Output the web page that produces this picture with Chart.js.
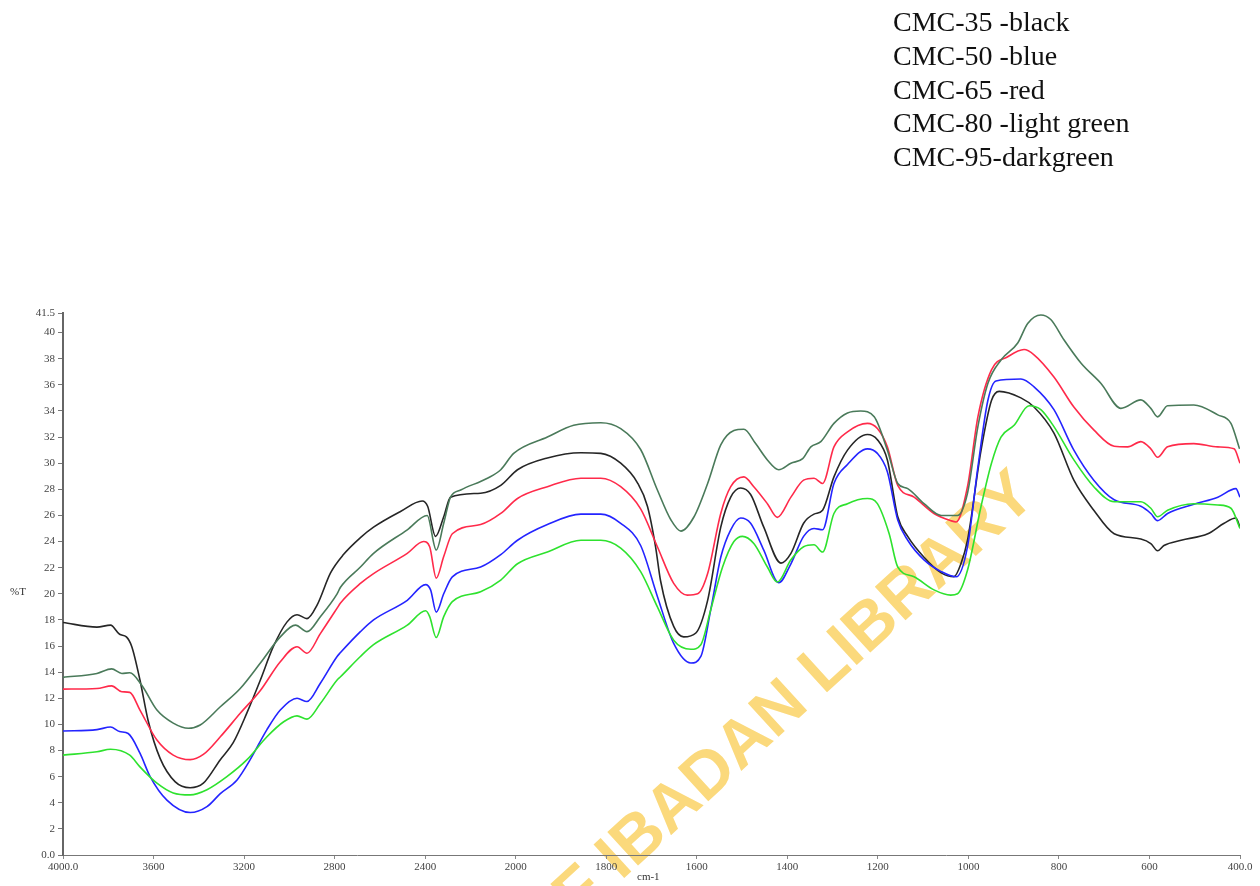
<!DOCTYPE html>
<html lang="en">
<head>
<meta charset="UTF-8">
<title>CMC FTIR spectra</title>
<style>
  body {
    margin: 0;
    background: #fff;
    width: 1260px;
    height: 886px;
    overflow: hidden;
    position: relative;
    font-family: "Liberation Serif", "Times New Roman", serif;
  }
  .key {
    position: absolute;
    left: 893px;
    top: 5px;
    font-size: 28px;
    line-height: 33.8px;
    color: #111;
  }
  .mark {
    position: absolute;
    right: 215px;
    top: 440px;
    transform-origin: 100% 100%;
    transform: rotate(-42.5deg);
    font-family: "Liberation Sans", Arial, sans-serif;
    font-weight: bold;
    font-size: 66px;
    line-height: 66px;
    white-space: nowrap;
    color: #fbd97c;
  }
  .chart-box {
    position: absolute;
    left: 0;
    top: 0;
  }
  .ylab {
    position: absolute;
    left: 10px;
    top: 585px;
    font-size: 11px;
    color: #333;
  }
  .xlab {
    position: absolute;
    left: 637px;
    top: 870px;
    font-size: 11px;
    color: #333;
  }
</style>
<script src="https://cdn.jsdelivr.net/npm/chart.js"></script>
</head>
<body>
  <div class="mark">UNIVERSITY OF IBADAN LIBRARY</div>
  <div class="chart-box">
    <canvas id="ftir" width="1260" height="886"></canvas>
  </div>
  <div class="key">
    CMC-35 -black<br>
    CMC-50 -blue<br>
    CMC-65 -red<br>
    CMC-80 -light green<br>
    CMC-95-darkgreen
  </div>
  <div class="ylab">%T</div>
  <div class="xlab">cm-1</div>

  <script>
    // tick labels (x axis changes scale at 2000 cm-1)
    const xTickLabels = ['4000.0', '3600', '3200', '2800', '2400', '2000', '1800', '1600', '1400', '1200', '1000', '800', '600', '400.0'];
    const yTicks = [0, 2, 4, 6, 8, 10, 12, 14, 16, 18, 20, 22, 24, 26, 28, 30, 32, 34, 36, 38, 40, 41.5];

    // [wavenumber, %T]
    const cmc35 = [
      [4000, 17.8], [3850, 17.45], [3790, 17.6], [3750, 16.9], [3720, 16.7], [3696, 15.95], [3660, 13.4],
      [3624, 10.3], [3571, 7.4], [3504, 5.6], [3438, 5.15], [3380, 5.5], [3305, 7.3], [3248, 8.6],
      [3187, 10.9], [3128, 13.4], [3071, 15.95], [3010, 17.85], [2966, 18.4], [2922, 18.1], [2877, 19.15],
      [2818, 21.6], [2761, 23.0], [2686, 24.3], [2628, 25.1], [2509, 26.3], [2413, 27.1], [2389, 26.7],
      [2354, 24.4], [2318, 25.9], [2288, 27.4], [2155, 27.7], [2066, 28.3], [1996, 29.5], [1930, 30.4],
      [1856, 30.8], [1812, 30.75], [1768, 30.0], [1731, 28.5], [1709, 26.7], [1691, 23.6], [1680, 21.0],
      [1651, 17.5], [1629, 16.7], [1602, 17.0], [1576, 19.5], [1547, 25.1], [1525, 27.4], [1503, 28.1],
      [1481, 27.6], [1452, 25.1], [1414, 22.35], [1392, 23.1], [1364, 25.4], [1341, 26.1], [1322, 26.4],
      [1297, 28.95], [1267, 31.0], [1223, 32.2], [1201, 31.8], [1179, 30.25], [1156, 25.9], [1134, 24.4],
      [1098, 22.8], [1060, 21.6], [1032, 21.3], [1016, 22.35], [1002, 24.1], [972, 31.0], [949, 34.8],
      [932, 35.5], [884, 35.0], [855, 34.3], [811, 32.3], [767, 28.7], [723, 26.4], [678, 24.6],
      [619, 24.2], [597, 23.85], [582, 23.3], [568, 23.7], [530, 24.1], [471, 24.6], [435, 25.4],
      [409, 25.8], [400, 25.1]
    ];

    const cmc50 = [
      [4000, 9.5], [3850, 9.6], [3790, 9.8], [3750, 9.45], [3712, 9.3], [3660, 7.8], [3615, 6.0],
      [3541, 4.2], [3438, 3.25], [3364, 3.7], [3305, 4.7], [3231, 5.75], [3173, 7.3], [3099, 9.6],
      [3040, 11.1], [2966, 12.0], [2922, 11.75], [2863, 13.15], [2789, 15.2], [2774, 15.5], [2686, 17.1],
      [2628, 18.0], [2479, 19.5], [2398, 20.7], [2376, 20.3], [2351, 18.6], [2318, 20.0], [2280, 21.3],
      [2155, 22.05], [2066, 23.0], [1996, 24.1], [1930, 25.3], [1856, 26.1], [1812, 26.1], [1768, 25.4],
      [1724, 23.7], [1687, 19.8], [1651, 16.2], [1613, 14.7], [1591, 15.2], [1569, 18.8], [1547, 22.8],
      [1525, 24.9], [1503, 25.8], [1481, 25.4], [1452, 23.35], [1419, 20.85], [1392, 22.3], [1364, 24.4],
      [1341, 25.0], [1322, 24.9], [1297, 28.45], [1267, 29.9], [1223, 31.1], [1201, 30.75], [1179, 29.35],
      [1156, 25.65], [1134, 24.1], [1098, 22.6], [1060, 21.7], [1027, 21.3], [1002, 23.6], [979, 29.7],
      [957, 34.8], [939, 36.3], [884, 36.45], [855, 35.85], [811, 34.1], [767, 31.0], [723, 28.7],
      [678, 27.2], [619, 26.7], [597, 26.15], [582, 25.6], [560, 26.15], [502, 26.85], [449, 27.4],
      [409, 28.05], [400, 27.4]
    ];

    const cmc65 = [
      [4000, 12.7], [3850, 12.75], [3785, 12.95], [3740, 12.5], [3705, 12.45], [3660, 11.1], [3585, 8.8],
      [3513, 7.65], [3438, 7.3], [3380, 7.7], [3305, 9.05], [3217, 10.85], [3128, 12.6], [3040, 14.8],
      [2966, 15.95], [2922, 15.45], [2863, 16.95], [2789, 18.9], [2774, 19.3], [2686, 20.8], [2628, 21.55],
      [2479, 23.1], [2407, 24.0], [2380, 23.6], [2351, 21.2], [2318, 22.85], [2280, 24.6], [2155, 25.3],
      [2066, 26.15], [1996, 27.3], [1930, 28.2], [1856, 28.85], [1812, 28.85], [1768, 28.2], [1724, 26.5],
      [1687, 23.6], [1651, 20.8], [1621, 19.9], [1598, 20.0], [1576, 21.55], [1547, 26.15], [1525, 28.2],
      [1496, 28.95], [1474, 28.2], [1444, 26.9], [1422, 25.85], [1392, 27.4], [1364, 28.7], [1341, 28.85],
      [1322, 28.45], [1297, 31.25], [1267, 32.4], [1223, 33.05], [1201, 32.65], [1179, 31.25], [1156, 28.3],
      [1120, 27.4], [1076, 26.15], [1039, 25.6], [1027, 25.5], [1002, 28.2], [979, 33.55], [949, 37.15],
      [913, 38.15], [877, 38.7], [855, 38.3], [811, 36.6], [767, 34.3], [723, 32.55], [678, 31.3],
      [648, 31.25], [619, 31.65], [597, 31.1], [582, 30.45], [560, 31.25], [502, 31.5], [449, 31.25],
      [413, 31.1], [400, 30.0]
    ];

    const cmc80 = [
      [4000, 7.65], [3850, 7.9], [3790, 8.1], [3705, 7.65], [3660, 6.75], [3585, 5.5], [3513, 4.75],
      [3438, 4.6], [3364, 5.0], [3276, 6.0], [3187, 7.3], [3099, 9.05], [3025, 10.2], [2966, 10.65],
      [2922, 10.4], [2863, 11.6], [2789, 13.4], [2774, 13.65], [2686, 15.2], [2628, 16.1], [2479, 17.6],
      [2398, 18.7], [2380, 18.25], [2351, 16.65], [2318, 18.25], [2280, 19.4], [2155, 20.15], [2066, 21.05],
      [1996, 22.3], [1930, 23.2], [1856, 24.1], [1812, 24.1], [1768, 23.5], [1724, 21.7], [1687, 19.0],
      [1651, 16.45], [1613, 15.75], [1591, 16.1], [1569, 18.8], [1543, 22.05], [1518, 24.0], [1499, 24.4],
      [1474, 23.85], [1444, 22.05], [1422, 20.9], [1392, 22.6], [1364, 23.6], [1341, 23.75], [1322, 23.2],
      [1297, 26.15], [1267, 26.9], [1223, 27.3], [1201, 26.9], [1175, 24.6], [1156, 22.05], [1120, 21.3],
      [1076, 20.3], [1039, 19.9], [1024, 20.0], [1002, 21.8], [972, 26.7], [949, 30.0], [928, 32.0],
      [899, 32.9], [866, 34.4], [840, 34.1], [811, 32.8], [767, 30.25], [723, 28.2], [678, 27.05],
      [619, 27.05], [597, 26.55], [582, 25.9], [560, 26.4], [502, 26.9], [449, 26.8], [420, 26.55],
      [400, 25.0]
    ];

    const cmc95 = [
      [4000, 13.6], [3850, 13.9], [3785, 14.25], [3740, 13.9], [3705, 13.95], [3652, 13.0], [3585, 11.1],
      [3513, 10.1], [3446, 9.7], [3394, 9.95], [3305, 11.35], [3217, 12.75], [3128, 14.7], [3040, 16.7],
      [2973, 17.6], [2922, 17.1], [2863, 18.25], [2789, 20.0], [2774, 20.5], [2686, 22.05], [2628, 23.1],
      [2479, 24.9], [2391, 26.0], [2351, 23.35], [2318, 25.4], [2288, 27.4], [2243, 27.95], [2125, 28.85],
      [2066, 29.5], [2009, 30.75], [1930, 32.0], [1872, 32.9], [1812, 33.1], [1768, 32.65], [1724, 31.05],
      [1687, 27.95], [1657, 25.65], [1635, 24.8], [1606, 25.9], [1576, 28.45], [1547, 31.4], [1518, 32.5],
      [1496, 32.6], [1470, 31.5], [1444, 30.25], [1419, 29.5], [1392, 30.0], [1366, 30.35], [1348, 31.25],
      [1326, 31.65], [1297, 33.05], [1267, 33.85], [1238, 34.0], [1208, 33.55], [1179, 31.0], [1156, 28.45],
      [1134, 28.05], [1098, 26.9], [1060, 26.0], [1024, 26.0], [1002, 27.7], [979, 32.8], [957, 36.1],
      [928, 37.9], [891, 39.2], [869, 40.7], [840, 41.35], [818, 41.0], [789, 39.45], [751, 37.65],
      [707, 36.1], [663, 34.2], [619, 34.85], [597, 34.2], [582, 33.55], [560, 34.4], [502, 34.45],
      [449, 33.7], [420, 33.05], [401, 31.1]
    ];

    // instrument axis: 400 cm-1 per division above 2000, 200 per division below
    function axisPos(wn) {
      return wn >= 2000 ? (4000 - wn) / 400 : 5 + (2000 - wn) / 200;
    }

    function toPoints(arr) {
      return arr.map(p => ({ x: axisPos(p[0]), y: p[1] }));
    }

    const tickFont = { family: 'Liberation Serif', size: 11 };

    function line(label, arr, color) {
      return {
        label: label,
        data: toPoints(arr),
        borderColor: color,
        borderWidth: 1.6,
        pointRadius: 0,
        fill: false,
        cubicInterpolationMode: 'monotone'
      };
    }

    const ctx = document.getElementById('ftir').getContext('2d');
    const chart = new Chart(ctx, {
      type: 'line',
      data: {
        datasets: [
          line('CMC-95', cmc95, '#4a7a5a'),
          line('CMC-80', cmc80, '#2ee22e'),
          line('CMC-65', cmc65, '#ff2a4a'),
          line('CMC-50', cmc50, '#2424ff'),
          line('CMC-35', cmc35, '#262626')
        ]
      },
      options: {
        responsive: false,
        animation: false,
        layout: { padding: { top: 313, right: 20, left: 0, bottom: 0 } },
        plugins: {
          legend: { display: false },
          tooltip: { enabled: false }
        },
        scales: {
          x: {
            type: 'linear',
            min: 0,
            max: 13,
            afterBuildTicks: s => { s.ticks = xTickLabels.map((t, i) => ({ value: i })); },
            afterFit: s => { s.height = 31; },
            ticks: {
              callback: v => xTickLabels[Math.round(v)],
              font: tickFont,
              color: '#444',
              padding: 2,
              maxRotation: 0,
              autoSkip: false
            },
            grid: { drawOnChartArea: false, tickLength: 4, color: '#888' },
            border: { color: '#777', width: 1 }
          },
          y: {
            type: 'linear',
            min: 0,
            max: 41.5,
            afterBuildTicks: s => { s.ticks = yTicks.map(v => ({ value: v })); },
            afterFit: s => { s.width = 63; },
            ticks: {
              callback: v => (v === 0 ? '0.0' : String(v)),
              font: tickFont,
              color: '#444',
              padding: 3,
              autoSkip: false
            },
            grid: { drawOnChartArea: false, tickLength: 5, color: '#777' },
            border: { color: '#666', width: 2 }
          }
        }
      }
    });
  </script>
</body>
</html>
